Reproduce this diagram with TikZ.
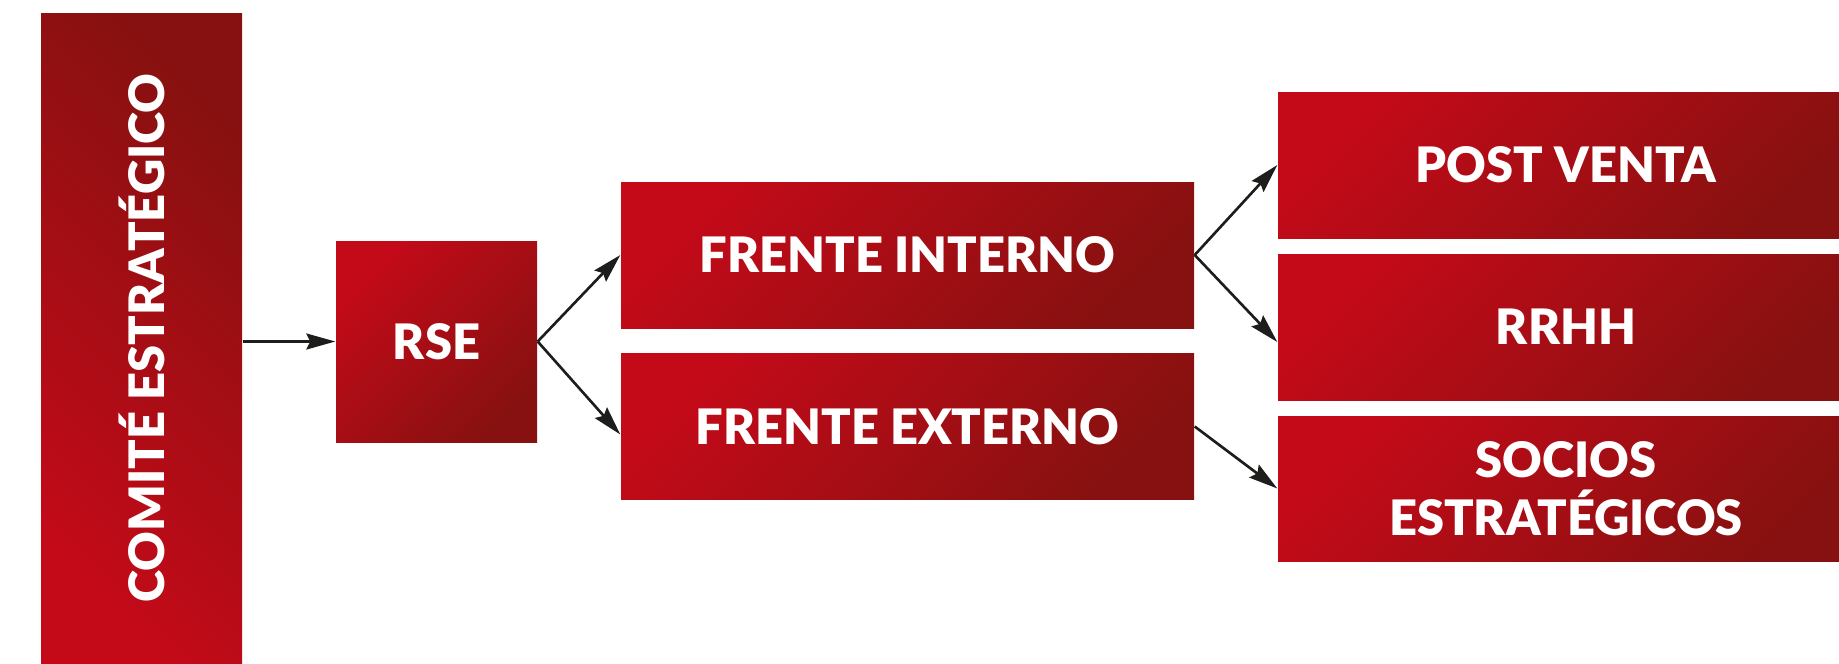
\documentclass[tikz,border=0pt]{standalone}
\usepackage{fontspec}
\newfontfamily\cajafont{Lato Black}
\usetikzlibrary{arrows.meta}
\definecolor{rojoclaro}{HTML}{C40A19}
\definecolor{rojooscuro}{HTML}{871110}
\definecolor{grisflecha}{HTML}{1D1D1B}

\begin{document}
\begin{tikzpicture}[
    caja/.style={rectangle, inner sep=0pt, top color=rojoclaro, bottom color=rojooscuro, shading angle=45, text=white, font=\cajafont\fontsize{13.9}{16.5}\selectfont, align=center},
    flecha/.style={draw=grisflecha, line width=0.75pt, -{Stealth[length=2.9mm,width=1.6mm,inset=0.4mm]}}
]
    \clip (0,0) rectangle (18.39,6.63);
    % Comite y RSE
    \node[caja, shading angle=135, rotate=90, minimum width=6.5cm, minimum height=2.01cm] (comite) at (1.415,3.25) {COMITÉ ESTRATÉGICO};
    \node[caja, minimum width=2.01cm, minimum height=2.01cm] (rse) at (4.365,3.215) {RSE};
    % Frentes
    \node[caja, minimum width=5.73cm, minimum height=1.46cm] (fi) at (9.075,4.08) {FRENTE INTERNO};
    \node[caja, minimum width=5.73cm, minimum height=1.46cm] (fe) at (9.075,2.365) {FRENTE EXTERNO};
    % Areas
    \node[caja, minimum width=5.76cm, minimum height=1.46cm] (pv) at (15.66,4.98) {POST VENTA};
    \node[caja, minimum width=5.76cm, minimum height=1.46cm] (rrhh) at (15.66,3.36) {RRHH};
    \node[caja, minimum width=5.76cm, minimum height=1.45cm] (socios) at (15.66,1.745) {SOCIOS\\ESTRATÉGICOS};
    % Flechas
    \draw[flecha] (comite.south |- rse.west) -- (rse.west);
    \draw[flecha] (rse.east) -- (fi.west);
    \draw[flecha] (rse.east) -- ([yshift=-0.8mm]fe.west);
    \draw[flecha] (fi.east) -- (pv.west);
    \draw[flecha] (fi.east) -- ([yshift=-1.5mm]rrhh.west);
    \draw[flecha] (fe.east) -- (socios.west);
\end{tikzpicture}
\end{document}
